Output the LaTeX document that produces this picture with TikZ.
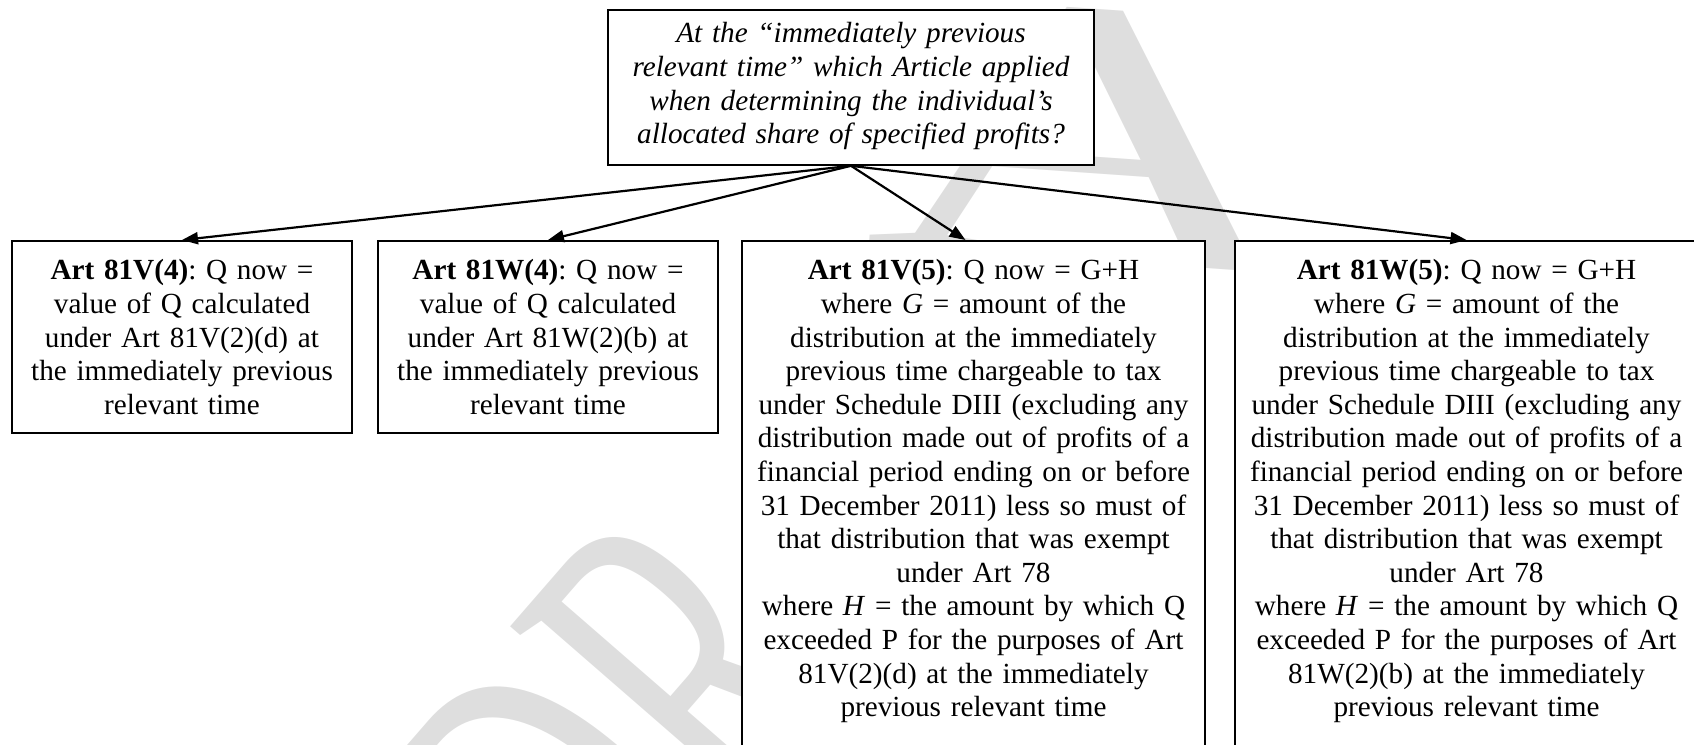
\documentclass[tikz,border=0pt]{standalone}
\usepackage{fontspec}
\setmainfont{Liberation Serif}
\usetikzlibrary{arrows.meta}
\definecolor{wmgray}{RGB}{222,222,222}
\frenchspacing
\begin{document}
\begin{tikzpicture}[x=1pt,y=-1pt,
  box/.style={draw=black, line width=1.8pt, fill=white, align=center,
    anchor=north, inner xsep=8pt, inner ysep=17pt, text height=22pt,
    font=\fontsize{29.2}{33.6}\selectfont},
  tallbox/.style={box, text width=447pt, text depth=560pt},
  shortbox/.style={box, text width=324pt, text depth=136pt},
  link/.style={line width=2.2pt, -{Triangle[length=16pt,width=12pt]}},
  wm/.style={text=wmgray, anchor=base, inner sep=0pt},
]
\useasboundingbox (0,0) rectangle (1694,744);
\clip (0,0) rectangle (1694,744);

% arched background watermark "DRAFT" (stretched letters)
\node[wm, anchor=base west, rotate=49, font=\fontsize{295}{295}\selectfont] (wmDR) at (620,1015) {\scalebox{1}[1.746]{DR}};
\node[wm, rotate=-4, font=\fontsize{380}{380}\selectfont] (wmA) at (1082,260) {\scalebox{1.6}[1]{A}};
\node[wm, rotate=-40, font=\fontsize{290}{290}\selectfont] (wmF) at (1450,520) {F};
\node[wm, rotate=-55, font=\fontsize{290}{290}\selectfont] (wmT) at (1600,720) {T};

% question
\node[box, text width=470pt, inner ysep=10pt, text height=23pt, text depth=112pt,
  font=\fontsize{29.2}{33.6}\selectfont\itshape] (q) at (851,9)
  {At the “immediately previous\\relevant time” which Article applied\\when determining the individual’s\\allocated share of specified profits?};

% answers
\node[shortbox] (b1) at (182,240)
  {\textbf{Art 81V(4)}: Q now =\\value of Q calculated\\under Art 81V(2)(d) at\\the immediately previous\\relevant time};
\node[shortbox] (b2) at (548,240)
  {\textbf{Art 81W(4)}: Q now =\\value of Q calculated\\under Art 81W(2)(b) at\\the immediately previous\\relevant time};
\node[tallbox] (b3) at (973.5,240)
  {\textbf{Art 81V(5)}: Q now = G+H\\where \textit{G} = amount of the\\distribution at the immediately\\previous time chargeable to tax\\under Schedule DIII (excluding any\\distribution made out of profits of a\\financial period ending on or before\\31 December 2011) less so must of\\that distribution that was exempt\\under Art 78\\where \textit{H} = the amount by which Q\\exceeded P for the purposes of Art\\81V(2)(d) at the immediately\\previous relevant time};
\node[tallbox] (b4) at (1466.5,240)
  {\textbf{Art 81W(5)}: Q now = G+H\\where \textit{G} = amount of the\\distribution at the immediately\\previous time chargeable to tax\\under Schedule DIII (excluding any\\distribution made out of profits of a\\financial period ending on or before\\31 December 2011) less so must of\\that distribution that was exempt\\under Art 78\\where \textit{H} = the amount by which Q\\exceeded P for the purposes of Art\\81W(2)(b) at the immediately\\previous relevant time};

% connectors
\draw[link] (q.south) -- (b1.north);
\draw[link] (q.south) -- (b2.north);
\draw[link] (q.south) -- ([xshift=-8pt]b3.north);
\draw[link] (q.south) -- (b4.north);
\end{tikzpicture}
\end{document}
